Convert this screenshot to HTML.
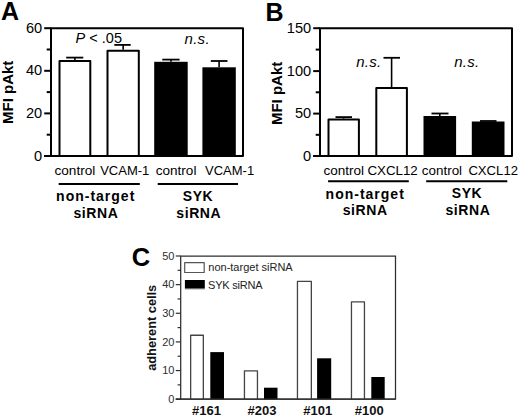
<!DOCTYPE html>
<html><head><meta charset="utf-8"><style>
html,body{margin:0;padding:0;background:#fff;}
svg{display:block;font-family:"Liberation Sans", sans-serif;}
</style></head><body>
<svg width="520" height="418" viewBox="0 0 520 418">
<rect width="520" height="418" fill="#fff"/>
<path d="M51 156 V28.2 H243 V156 Z" fill="none" stroke="#000" stroke-width="2" stroke-linejoin="round"/>
<line x1="44.2" y1="156" x2="51" y2="156" stroke="#000" stroke-width="2"/>
<line x1="44.2" y1="28.2" x2="51" y2="28.2" stroke="#000" stroke-width="2"/>
<text x="42.2" y="32.7" font-size="14.6" text-anchor="end" font-weight="normal" font-style="normal" fill="#000" >60</text>
<line x1="44.2" y1="70.8" x2="51" y2="70.8" stroke="#000" stroke-width="2"/>
<text x="42.2" y="75.3" font-size="14.6" text-anchor="end" font-weight="normal" font-style="normal" fill="#000" >40</text>
<line x1="44.2" y1="113.4" x2="51" y2="113.4" stroke="#000" stroke-width="2"/>
<text x="42.2" y="117.9" font-size="14.6" text-anchor="end" font-weight="normal" font-style="normal" fill="#000" >20</text>
<line x1="44.2" y1="156" x2="51" y2="156" stroke="#000" stroke-width="2"/>
<text x="42.2" y="160.5" font-size="14.6" text-anchor="end" font-weight="normal" font-style="normal" fill="#000" >0</text>
<line x1="46.7" y1="49.5" x2="51" y2="49.5" stroke="#000" stroke-width="2"/>
<line x1="46.7" y1="92.1" x2="51" y2="92.1" stroke="#000" stroke-width="2"/>
<line x1="46.7" y1="134.7" x2="51" y2="134.7" stroke="#000" stroke-width="2"/>
<path d="M320 156 V28.2 H512 V156 Z" fill="none" stroke="#000" stroke-width="2" stroke-linejoin="round"/>
<line x1="313.2" y1="156" x2="320" y2="156" stroke="#000" stroke-width="2"/>
<line x1="313.2" y1="28.2" x2="320" y2="28.2" stroke="#000" stroke-width="2"/>
<text x="311.2" y="32.7" font-size="14.6" text-anchor="end" font-weight="normal" font-style="normal" fill="#000" >150</text>
<line x1="313.2" y1="71.1" x2="320" y2="71.1" stroke="#000" stroke-width="2"/>
<text x="311.2" y="75.6" font-size="14.6" text-anchor="end" font-weight="normal" font-style="normal" fill="#000" >100</text>
<line x1="313.2" y1="113.6" x2="320" y2="113.6" stroke="#000" stroke-width="2"/>
<text x="311.2" y="118.1" font-size="14.6" text-anchor="end" font-weight="normal" font-style="normal" fill="#000" >50</text>
<line x1="313.2" y1="156" x2="320" y2="156" stroke="#000" stroke-width="2"/>
<text x="311.2" y="160.5" font-size="14.6" text-anchor="end" font-weight="normal" font-style="normal" fill="#000" >0</text>
<line x1="315.7" y1="49.6" x2="320" y2="49.6" stroke="#000" stroke-width="2"/>
<line x1="315.7" y1="92.3" x2="320" y2="92.3" stroke="#000" stroke-width="2"/>
<line x1="315.7" y1="134.8" x2="320" y2="134.8" stroke="#000" stroke-width="2"/>
<text x="1.0" y="20.1" font-size="25" text-anchor="start" font-weight="bold" font-style="normal" fill="#000" >A</text>
<text x="265.6" y="20.6" font-size="25" text-anchor="start" font-weight="bold" font-style="normal" fill="#000" >B</text>
<text x="131.8" y="266.3" font-size="25.5" text-anchor="start" font-weight="bold" font-style="normal" fill="#000" >C</text>
<text transform="translate(12.9,92.3) rotate(-90)" font-size="15" text-anchor="middle" font-weight="bold" fill="#000">MFI pAkt</text>
<text transform="translate(281.6,93.4) rotate(-90)" font-size="15" text-anchor="middle" font-weight="bold" fill="#000">MFI pAkt</text>
<line x1="74.9" y1="60.0" x2="74.9" y2="57.6" stroke="#000" stroke-width="1.6"/>
<line x1="66.2" y1="57.6" x2="83.3" y2="57.6" stroke="#000" stroke-width="1.8"/>
<rect x="59.5" y="61.0" width="30.799999999999997" height="95.0" fill="none" stroke="#000" stroke-width="2" stroke-linejoin="round"/>
<line x1="123.15" y1="49.7" x2="123.15" y2="44.9" stroke="#000" stroke-width="1.6"/>
<line x1="114.3" y1="44.9" x2="130.7" y2="44.9" stroke="#000" stroke-width="1.8"/>
<rect x="107.5" y="50.7" width="31.30000000000001" height="105.3" fill="none" stroke="#000" stroke-width="2" stroke-linejoin="round"/>
<line x1="170.95" y1="61.8" x2="170.95" y2="59.6" stroke="#000" stroke-width="1.6"/>
<line x1="162.3" y1="59.6" x2="179.6" y2="59.6" stroke="#000" stroke-width="1.8"/>
<rect x="154.2" y="61.8" width="33.5" height="94.2" fill="#000"/>
<line x1="219.10000000000002" y1="67.3" x2="219.10000000000002" y2="61.0" stroke="#000" stroke-width="1.6"/>
<line x1="210.8" y1="61.0" x2="227.5" y2="61.0" stroke="#000" stroke-width="1.8"/>
<rect x="202.4" y="67.3" width="33.400000000000006" height="88.7" fill="#000"/>
<line x1="343.7" y1="118.6" x2="343.7" y2="117.1" stroke="#000" stroke-width="1.6"/>
<line x1="335.5" y1="117.1" x2="352.0" y2="117.1" stroke="#000" stroke-width="1.8"/>
<rect x="328.5" y="119.6" width="30.399999999999977" height="36.400000000000006" fill="none" stroke="#000" stroke-width="2" stroke-linejoin="round"/>
<line x1="391.6" y1="87.0" x2="391.6" y2="57.8" stroke="#000" stroke-width="1.6"/>
<line x1="383.5" y1="57.8" x2="400.0" y2="57.8" stroke="#000" stroke-width="1.8"/>
<rect x="376.3" y="88.0" width="30.599999999999966" height="68.0" fill="none" stroke="#000" stroke-width="2" stroke-linejoin="round"/>
<line x1="439.8" y1="116.0" x2="439.8" y2="113.5" stroke="#000" stroke-width="1.6"/>
<line x1="431.5" y1="113.5" x2="448.5" y2="113.5" stroke="#000" stroke-width="1.8"/>
<rect x="423.5" y="116.0" width="32.60000000000002" height="40.0" fill="#000"/>
<line x1="488.15" y1="121.5" x2="488.15" y2="121.0" stroke="#000" stroke-width="1.6"/>
<line x1="480.0" y1="121.0" x2="496.5" y2="121.0" stroke="#000" stroke-width="1.8"/>
<rect x="471.8" y="121.5" width="32.69999999999999" height="34.5" fill="#000"/>
<text x="75.6" y="43" font-size="14.5"><tspan font-style="italic">P</tspan> &lt; .05</text>
<text x="184.5" y="43.8" font-size="15" text-anchor="start" font-weight="normal" font-style="italic" fill="#000" letter-spacing="0.3">n.s.</text>
<text x="356.2" y="67.1" font-size="15" text-anchor="start" font-weight="normal" font-style="italic" fill="#000" letter-spacing="0.3">n.s.</text>
<text x="454.2" y="67.3" font-size="15" text-anchor="start" font-weight="normal" font-style="italic" fill="#000" letter-spacing="0.3">n.s.</text>
<text x="54.5" y="174.9" font-size="13" text-anchor="start" font-weight="normal" font-style="normal" fill="#000" textLength="40.8" lengthAdjust="spacingAndGlyphs">control</text>
<text x="100.2" y="174.9" font-size="13" text-anchor="start" font-weight="normal" font-style="normal" fill="#000" >VCAM-1</text>
<text x="155.8" y="174.9" font-size="13" text-anchor="start" font-weight="normal" font-style="normal" fill="#000" textLength="40.6" lengthAdjust="spacingAndGlyphs">control</text>
<text x="205.0" y="174.9" font-size="13" text-anchor="start" font-weight="normal" font-style="normal" fill="#000" >VCAM-1</text>
<text x="323.5" y="175.2" font-size="13" text-anchor="start" font-weight="normal" font-style="normal" fill="#000" textLength="40.6" lengthAdjust="spacingAndGlyphs">control</text>
<text x="367.4" y="175.2" font-size="13" text-anchor="start" font-weight="normal" font-style="normal" fill="#000" textLength="50.4" lengthAdjust="spacingAndGlyphs">CXCL12</text>
<text x="421.8" y="175.0" font-size="13" text-anchor="start" font-weight="normal" font-style="normal" fill="#000" textLength="40.3" lengthAdjust="spacingAndGlyphs">control</text>
<text x="468.4" y="175.0" font-size="13" text-anchor="start" font-weight="normal" font-style="normal" fill="#000" textLength="49.6" lengthAdjust="spacingAndGlyphs">CXCL12</text>
<line x1="58.7" y1="184.1" x2="139.8" y2="184.1" stroke="#000" stroke-width="2"/>
<line x1="157.7" y1="184.1" x2="238" y2="184.1" stroke="#000" stroke-width="2"/>
<line x1="328.1" y1="181.2" x2="408.8" y2="181.2" stroke="#000" stroke-width="2"/>
<line x1="426.2" y1="181.2" x2="507.3" y2="181.2" stroke="#000" stroke-width="2"/>
<text x="95.7" y="200.8" font-size="14" text-anchor="middle" font-weight="bold" font-style="normal" fill="#000" letter-spacing="1.0">non-target</text>
<text x="96.0" y="218.3" font-size="14" text-anchor="middle" font-weight="bold" font-style="normal" fill="#000" letter-spacing="0.6">siRNA</text>
<text x="198.0" y="200.7" font-size="14" text-anchor="middle" font-weight="bold" font-style="normal" fill="#000" letter-spacing="0.6">SYK</text>
<text x="198.8" y="218.1" font-size="14" text-anchor="middle" font-weight="bold" font-style="normal" fill="#000" letter-spacing="0.6">siRNA</text>
<text x="365.2" y="198.8" font-size="14" text-anchor="middle" font-weight="bold" font-style="normal" fill="#000" letter-spacing="1.0">non-target</text>
<text x="365.2" y="215.3" font-size="14" text-anchor="middle" font-weight="bold" font-style="normal" fill="#000" letter-spacing="0.6">siRNA</text>
<text x="467.0" y="197.7" font-size="14" text-anchor="middle" font-weight="bold" font-style="normal" fill="#000" letter-spacing="0.6">SYK</text>
<text x="468.0" y="215.3" font-size="14" text-anchor="middle" font-weight="bold" font-style="normal" fill="#000" letter-spacing="0.6">siRNA</text>
<path d="M180.7 399.2 V256.0 H395.5 V399.2 Z" fill="none" stroke="#2e2e2e" stroke-width="1.25"/>
<line x1="175.8" y1="399.2" x2="180.7" y2="399.2" stroke="#2e2e2e" stroke-width="1.2"/>
<line x1="175.8" y1="399.2" x2="180.7" y2="399.2" stroke="#2e2e2e" stroke-width="1.2"/>
<text x="174.4" y="403.0" font-size="11" text-anchor="end" font-weight="normal" font-style="normal" fill="#2e2e2e" >0</text>
<line x1="175.8" y1="370.56" x2="180.7" y2="370.56" stroke="#2e2e2e" stroke-width="1.2"/>
<text x="174.4" y="374.36" font-size="11" text-anchor="end" font-weight="normal" font-style="normal" fill="#2e2e2e" >10</text>
<line x1="175.8" y1="341.91999999999996" x2="180.7" y2="341.91999999999996" stroke="#2e2e2e" stroke-width="1.2"/>
<text x="174.4" y="345.71999999999997" font-size="11" text-anchor="end" font-weight="normal" font-style="normal" fill="#2e2e2e" >20</text>
<line x1="175.8" y1="313.28" x2="180.7" y2="313.28" stroke="#2e2e2e" stroke-width="1.2"/>
<text x="174.4" y="317.08" font-size="11" text-anchor="end" font-weight="normal" font-style="normal" fill="#2e2e2e" >30</text>
<line x1="175.8" y1="284.64" x2="180.7" y2="284.64" stroke="#2e2e2e" stroke-width="1.2"/>
<text x="174.4" y="288.44" font-size="11" text-anchor="end" font-weight="normal" font-style="normal" fill="#2e2e2e" >40</text>
<line x1="175.8" y1="256.0" x2="180.7" y2="256.0" stroke="#2e2e2e" stroke-width="1.2"/>
<text x="174.4" y="259.8" font-size="11" text-anchor="end" font-weight="normal" font-style="normal" fill="#2e2e2e" >50</text>
<line x1="177.6" y1="384.88" x2="180.7" y2="384.88" stroke="#2e2e2e" stroke-width="1.2"/>
<line x1="177.6" y1="356.24" x2="180.7" y2="356.24" stroke="#2e2e2e" stroke-width="1.2"/>
<line x1="177.6" y1="327.6" x2="180.7" y2="327.6" stroke="#2e2e2e" stroke-width="1.2"/>
<line x1="177.6" y1="298.96" x2="180.7" y2="298.96" stroke="#2e2e2e" stroke-width="1.2"/>
<line x1="177.6" y1="270.32" x2="180.7" y2="270.32" stroke="#2e2e2e" stroke-width="1.2"/>
<text transform="translate(155.8,327.8) rotate(-90)" font-size="12.8" text-anchor="middle" font-weight="bold" fill="#111">adherent cells</text>
<rect x="184.7" y="262.7" width="19.5" height="9.8" fill="#fff" stroke="#555" stroke-width="1.2" stroke-linejoin="round"/>
<rect x="184.9" y="280" width="19.900000000000006" height="8.0" fill="#000"/>
<rect x="184.9" y="288.0" width="19.900000000000006" height="1.3000000000000114" fill="#666"/>
<text x="208.3" y="270.5" font-size="11" text-anchor="start" font-weight="normal" font-style="normal" fill="#222" >non-target siRNA</text>
<text x="208.0" y="288.8" font-size="11" text-anchor="start" font-weight="normal" font-style="normal" fill="#222" textLength="54.6" lengthAdjust="spacing">SYK siRNA</text>
<rect x="190.65" y="335.25" width="12.7" height="63.94999999999997" fill="#fff" stroke="#444" stroke-width="1.3" stroke-linejoin="round"/>
<rect x="210.3" y="352.1" width="13.699999999999989" height="47.099999999999966" fill="#000"/>
<rect x="244.45000000000002" y="370.84999999999997" width="13.00000000000001" height="28.35" fill="#fff" stroke="#444" stroke-width="1.3" stroke-linejoin="round"/>
<rect x="264.0" y="387.7" width="13.5" height="11.5" fill="#000"/>
<rect x="297.45" y="281.34999999999997" width="13.899999999999988" height="117.85" fill="#fff" stroke="#444" stroke-width="1.3" stroke-linejoin="round"/>
<rect x="317.1" y="358.3" width="14.099999999999966" height="40.89999999999998" fill="#000"/>
<rect x="351.45" y="301.84999999999997" width="13.00000000000001" height="97.35" fill="#fff" stroke="#444" stroke-width="1.3" stroke-linejoin="round"/>
<rect x="371.3" y="377.0" width="13.399999999999977" height="22.19999999999999" fill="#000"/>
<line x1="175.8" y1="399.2" x2="395.5" y2="399.2" stroke="#2e2e2e" stroke-width="1.2"/>
<text x="206.5" y="415.4" font-size="13" text-anchor="middle" font-weight="bold" font-style="normal" fill="#111" >#161</text>
<text x="262.0" y="415.4" font-size="13" text-anchor="middle" font-weight="bold" font-style="normal" fill="#111" >#203</text>
<text x="317.8" y="415.4" font-size="13" text-anchor="middle" font-weight="bold" font-style="normal" fill="#111" >#101</text>
<text x="369.2" y="415.4" font-size="13" text-anchor="middle" font-weight="bold" font-style="normal" fill="#111" >#100</text>
</svg>
</body></html>
